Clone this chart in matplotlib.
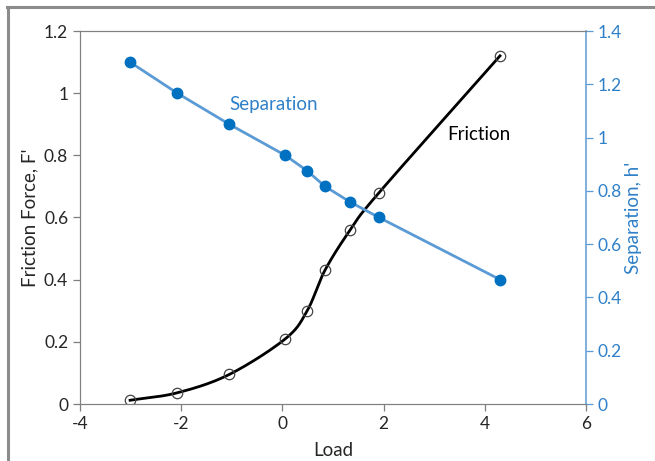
import numpy as np
import matplotlib
matplotlib.use("Agg")
import matplotlib.pyplot as plt
from matplotlib.lines import Line2D

# data
load = [-3.01, -2.08, -1.05, 0.06, 0.49, 0.84, 1.34, 1.91, 4.30]
friction = [0.012, 0.036, 0.095, 0.21, 0.30, 0.43, 0.56, 0.68, 1.12]
separation = [1.283, 1.167, 1.050, 0.933, 0.875, 0.817, 0.758, 0.700, 0.467]

x_ticks = [-4, -2, 0, 2, 4, 6]
f_ticks = [0, 0.2, 0.4, 0.6, 0.8, 1, 1.2]
s_ticks = [0, 0.2, 0.4, 0.6, 0.8, 1, 1.2, 1.4]


def smooth_line(xs, ys, n=30):
    # Catmull-Rom style smoothing, similar to the spreadsheet "smoothed line"
    xs = np.asarray(xs, float)
    ys = np.asarray(ys, float)
    px = np.concatenate([[2 * xs[0] - xs[1]], xs, [2 * xs[-1] - xs[-2]]])
    py = np.concatenate([[2 * ys[0] - ys[1]], ys, [2 * ys[-1] - ys[-2]]])
    outx, outy = [], []
    t = np.linspace(0, 1, n)
    for i in range(1, len(px) - 2):
        c0 = np.array([px[i], py[i]])
        c3 = np.array([px[i + 1], py[i + 1]])
        c1 = c0 + (np.array([px[i + 1], py[i + 1]]) - np.array([px[i - 1], py[i - 1]])) / 6
        c2 = c3 - (np.array([px[i + 2], py[i + 2]]) - np.array([px[i], py[i]])) / 6
        pts = ((1 - t) ** 3)[:, None] * c0 + (3 * (1 - t) ** 2 * t)[:, None] * c1 \
            + (3 * (1 - t) * t ** 2)[:, None] * c2 + (t ** 3)[:, None] * c3
        outx.extend(pts[:, 0])
        outy.extend(pts[:, 1])
    return outx, outy


plt.rcParams["font.family"] = ["Lato", "DejaVu Sans"]

blue_txt = "#2f80c8"
blue_line = "#5b9bd5"
blue_mark = "#0070c0"
gray = "#7f7f7f"

fig = plt.figure(figsize=(6.55, 4.61), dpi=100)
ax = fig.add_axes([80 / 655, 1 - 404 / 461, 506 / 655, 373 / 461])
ax2 = ax.twinx()

sx, sy = smooth_line(load, friction)
ax.plot(sx, sy, color="black", linewidth=2.0, zorder=3)
ax.plot(load, friction, linestyle="none", marker="o", markersize=7.5,
        markerfacecolor="none", markeredgecolor="#444444", markeredgewidth=0.9, zorder=4)

ax2.plot(load, separation, color=blue_line, linewidth=2.0, marker="o", markersize=7.5,
         markerfacecolor=blue_mark, markeredgecolor=blue_mark)

ax.set_xlim(-4, 6)
ax.set_ylim(0, 1.2)
ax2.set_ylim(0, 1.4)
ax.set_xticks(x_ticks)
ax.set_xticklabels([str(v) for v in x_ticks])
ax.set_yticks(f_ticks)
ax.set_yticklabels(["0", "0.2", "0.4", "0.6", "0.8", "1", "1.2"])
ax2.set_yticks(s_ticks)
ax2.set_yticklabels(["0", "0.2", "0.4", "0.6", "0.8", "1", "1.2", "1.4"])

ax.set_xlabel("Load", color="#262626", fontsize=13.5, labelpad=7)
ax.set_ylabel("Friction Force, F'", color="#262626", fontsize=13.5)
ax2.set_ylabel("Separation, h'", color=blue_txt, fontsize=13.5, labelpad=2)

for a in (ax, ax2):
    a.tick_params(direction="out", length=5, width=0.9, colors=gray, labelsize=12.5)
ax.tick_params(axis="both", labelcolor="#262626")
ax2.tick_params(axis="y", labelcolor=blue_txt, colors=blue_line)

for name in ("left", "bottom", "top"):
    ax.spines[name].set_color("#808080")
    ax2.spines[name].set_color("#808080")
ax.spines["right"].set_visible(False)
ax2.spines["right"].set_color(blue_line)
ax2.spines["right"].set_linewidth(1.1)

ax.text(-1.05, 0.962, "Separation", color=blue_txt, fontsize=13.5, va="center")
ax.text(3.25, 0.866, "Friction", color="black", fontsize=13.5, va="center")

# outer frame of the picture
fig.add_artist(Line2D([7 / 655, 1], [1 - 7 / 461, 1 - 7 / 461], color="#8c8c8c", linewidth=2.2))
fig.add_artist(Line2D([8 / 655, 8 / 655], [0, 1 - 7 / 461], color="#8c8c8c", linewidth=2.2))

fig.savefig("out.png", dpi=100)
